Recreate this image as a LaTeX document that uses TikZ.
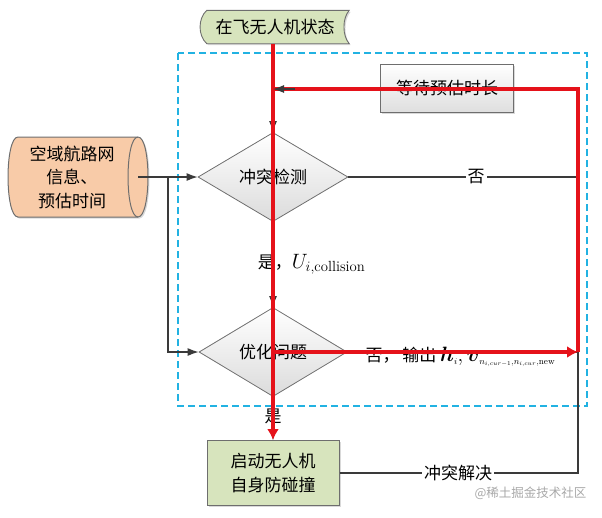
\documentclass[tikz,border=0pt]{standalone}
\usepackage{fontspec}
\usepackage{amsmath}
\newfontfamily\cjk{Noto Sans CJK SC}
\usetikzlibrary{arrows.meta,shapes.geometric,shadows}
\definecolor{flowred}{HTML}{E5121A}
\definecolor{lngray}{HTML}{3A3A3A}
\definecolor{bordgray}{HTML}{6E6E6E}
\definecolor{boxgreen}{HTML}{D7E4BD}
\definecolor{boxpeach}{HTML}{F8CBA8}
\definecolor{dashcyan}{HTML}{22B2E2}
\definecolor{wmgray}{HTML}{A8A8A8}
\DeclareMathSizes{20}{20}{9}{6.5}
\newcommand{\bigmath}[1]{{\fontsize{21}{24}\selectfont$#1$}}
\newcommand{\outmath}[1]{{\fontsize{20}{24}\selectfont$#1$}}

\begin{document}
\begin{tikzpicture}[x=1pt,y=-1pt,
  font=\cjk\fontsize{17}{23.5}\selectfont,
  line/.style={draw=lngray,line width=1.2pt},
  hot/.style={draw=flowred,line width=3.6pt},
  dtip/.style={-{Latex[length=11pt,width=8pt]}},
  rtip/.style={-{Latex[length=11pt,width=12pt,color=flowred]}},
  shade/.style={drop shadow={opacity=0.3,shadow xshift=1.5pt,shadow yshift=-1.5pt}},
  decide/.style={diamond,draw=bordgray,line width=0.8pt,top color=white,
    bottom color=gray!28,inner sep=0pt,minimum width=150pt,minimum height=89pt},
  greenbox/.style={rectangle,draw=bordgray,line width=1pt,fill=boxgreen,
    align=center,shade},
  waitbox/.style={rectangle,draw=bordgray,line width=1pt,top color=white,
    bottom color=gray!25,shade},
  lbl/.style={fill=white,inner sep=2pt}]

  \useasboundingbox (0,0) rectangle (602,517);

  % ===== FRAME =====
  \draw[dashcyan,line width=1.3pt,dash pattern=on 7pt off 4pt] (178,53) rectangle (587,406);

  % ===== NODES =====
  \node[minimum width=148pt,minimum height=33pt,inner sep=0pt] (state) at (275,27) {};
  \draw[draw=bordgray,line width=0.9pt,fill=boxgreen,shade]
    ([xshift=6pt]state.north west) -- (state.north east)
    .. controls +(-7,8) and +(-7,-8) .. (state.south east)
    -- ([xshift=6pt]state.south west)
    .. controls +(-9,-8) and +(-9,8) .. cycle;
  \node at (state.center) {在飞无人机状态};

  % cylinder lying on its side
  \draw[draw=bordgray,line width=1pt,fill=boxpeach,shade]
    (18,137) -- (138,137) .. controls (151.3,137) and (151.3,217) .. (138,217)
    -- (18,217) .. controls (4.7,217) and (4.7,137) .. cycle;
  \draw[draw=bordgray,line width=1pt]
    (138,137) .. controls (124.7,137) and (124.7,217) .. (138,217);
  \node[align=center,inner sep=0pt] (airspace) at (72,177) {空域航路网\\信息、\\预估时间};

  \node[waitbox,minimum width=133pt,minimum height=48pt] (wait) at (447,88) {等待预估时长};
  \node[decide] (detect) at (273,177) {冲突检测};
  \node[decide,minimum width=148pt] (optim) at (273,352) {优化问题};
  \node[greenbox,minimum width=132pt,minimum height=65pt] (avoid) at (273,473) {启动无人机\\自身防碰撞};

  \coordinate (feed) at (138,177);
  \coordinate (fork) at (168,177);
  \coordinate (corner) at (578,89);
  \coordinate (hit) at (578,352);

  % ===== CONNECTORS =====
  \draw[line,dtip] (detect.north |- state.south) -- (detect.north);
  \draw[line] (detect.east) -- (detect.east -| corner)
        node[lbl,midway,xshift=13pt] {否};
  \draw[line] (feed) -- (fork);
  \draw[line,dtip] (fork) -- (detect.west);
  \draw[line,dtip] (fork) |- (optim.west);
  \draw[line,dtip] (detect.south) -- (optim.north)
        node[midway,anchor=west,xshift=-19pt] {是，\bigmath{U_{i,\mathrm{collision}}}};
  \draw[line] (optim.east) -- (hit);
  \node[anchor=west] (outlbl) at (362,357)
        {否，\,输出 \outmath{\boldsymbol{h}_i,\boldsymbol{v}_{n_{i,cur-1},n_{i,cur},\mathrm{new}}}};
  \draw[line,dtip] (optim.south) -- (avoid.north)
        node[midway,yshift=2pt] {是};
  \draw[line] (avoid.east) -| (hit);
  \node[lbl] (solved) at (458,473) {冲突解决};

  % ===== HIGHLIGHTED PATH =====
  \draw[hot,rtip] (detect.north |- state.south) -- (avoid.north);
  \draw[hot,rtip] (optim.center) -- (hit);
  \draw[hot] (hit) -- (corner) -- (detect.north |- corner);
  \draw[line,dtip] ([xshift=22pt]detect.north |- corner) -- (detect.north |- corner);

  \node[anchor=east,wmgray,font=\cjk\fontsize{12.5}{14}\selectfont] (wmark) at (590,493) {@稀土掘金技术社区};

\end{tikzpicture}
\end{document}
